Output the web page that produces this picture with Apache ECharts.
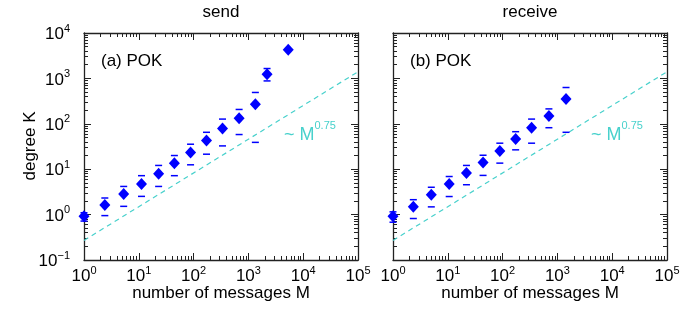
<!DOCTYPE html>
<html>
<head>
<meta charset="utf-8">
<script src="https://cdn.jsdelivr.net/npm/echarts@6/dist/echarts.min.js"></script>
<style>
  html, body { margin: 0; padding: 0; background: #fff; }
  #main { width: 697px; height: 314px; }
</style>
</head>
<body>
<div id="main"></div>
<script>
// (a) send
var sendM  = [1, 2.4, 5.3, 11.2, 23, 44.6, 88, 172, 337, 677, 1340, 2190, 5330];
var sendK  = [0.92, 1.62, 2.85, 4.7, 7.9, 13.6, 23.2, 42.6, 79, 132, 268, 1240, 4300];
var sendLo = [0.72, 0.95, 1.52, 2.52, 4.17, 7.2, 12.5, 21.4, 32.6, 58, 39, 880, null];
var sendHi = [1.1, 2.32, 4.17, 7.2, 12.1, 20, 35.5, 65, 127, 207, 490, 1650, null];

// (b) receive
var recvM  = [1, 2.35, 5.0, 10.6, 21.9, 44, 89, 173, 338, 700, 1437];
var recvK  = [0.92, 1.48, 2.75, 4.7, 8.2, 14, 25.3, 46.4, 82, 148, 350];
var recvLo = [0.68, 0.82, 1.48, 2.5, 4.55, 7.3, 13.6, 26.7, 37.4, 82, 65];
var recvHi = [1.15, 2.13, 4.0, 6.9, 12.1, 20.3, 37.4, 67, 127, 213, 630];

// ~ M^0.75 guide line (end points)
var fitM = [1, 100000];
var fitK = [0.27, 1400];

// tick marks
var xMajor = [1, 10, 100, 1000, 10000, 100000];
var yMajor = [0.1, 1, 10, 100, 1000, 10000];

var FONT = '"Liberation Sans", Arial, Helvetica, sans-serif';
var frameColor = '#222';
var blue = '#0000ff';
var cyan = '#48d1cc';

function minorOf(major) {
  var out = [];
  for (var i = 0; i < major.length - 1; i++) {
    for (var m = 2; m <= 9; m++) out.push(+(major[i] * m).toPrecision(6));
  }
  return out;
}
var xMinor = minorOf(xMajor);
var yMinor = minorOf(yMajor);

function zip(a, b) {
  return a.map(function (v, i) { return [v, b[i]]; });
}
function errRows(m, lo, hi) {
  var rows = [];
  m.forEach(function (v, i) {
    if (lo[i] != null) rows.push([v, lo[i], hi[i]]);
  });
  return rows;
}

function expLabel(v) {
  var e = Math.round(Math.log10(v));
  return '{b|10}{s|' + (e < 0 ? '\u2212' + (-e) : e) + '}';
}
var labelRich = {
  b: { fontSize: 17, fontFamily: FONT, color: '#000', lineHeight: 20, verticalAlign: 'bottom' },
  s: { fontSize: 11, fontFamily: FONT, color: '#000', lineHeight: 11, verticalAlign: 'top' }
};

// one log axis; several of them are stacked on each side for major/minor ticks
function logAxis(g, pos, range, ticks, len, line, labelTicks, margin) {
  return {
    type: 'log',
    logBase: 10,
    gridIndex: g,
    position: pos,
    min: range[0],
    max: range[1],
    axisLine: { show: line, onZero: false, lineStyle: { color: frameColor, width: 1.3 } },
    axisTick: { show: true, inside: true, length: len, customValues: ticks, lineStyle: { color: frameColor, width: 1 } },
    axisLabel: labelTicks ? {
      show: true, customValues: labelTicks, formatter: expLabel, rich: labelRich, margin: margin
    } : { show: false },
    splitLine: { show: false },
    minorTick: { show: false },
    minorSplitLine: { show: false }
  };
}

var xRange = [1, 100000];
var yRange = [0.1, 10000];
var xAxes = [], yAxes = [];
[0, 1].forEach(function (g) {
  xAxes.push(logAxis(g, 'bottom', xRange, xMajor, 7, true, xMajor, 5));
  xAxes.push(logAxis(g, 'bottom', xRange, xMinor, 4, false));
  xAxes.push(logAxis(g, 'top', xRange, xMajor, 7, true));
  xAxes.push(logAxis(g, 'top', xRange, xMinor, 4, false));
  yAxes.push(logAxis(g, 'left', yRange, yMajor, 7, true, g === 0 ? yMajor : null, 14));
  yAxes.push(logAxis(g, 'left', yRange, yMinor, 4, false));
  yAxes.push(logAxis(g, 'right', yRange, yMajor, 7, true));
  yAxes.push(logAxis(g, 'right', yRange, yMinor, 4, false));
});

function renderCaps(params, api) {
  var x = api.value(0);
  var kids = [];
  [api.value(1), api.value(2)].forEach(function (v) {
    if (v == null || isNaN(v)) return;
    var p = api.coord([x, v]);
    kids.push({
      type: 'line',
      shape: { x1: p[0] - 3.5, y1: p[1], x2: p[0] + 3.5, y2: p[1] },
      style: { stroke: blue, lineWidth: 1.5 }
    });
  });
  return { type: 'group', children: kids };
}

function panelSeries(g, m, k, lo, hi) {
  return [
    {
      type: 'line', xAxisIndex: g * 4, yAxisIndex: g * 4,
      data: zip(fitM, fitK), showSymbol: false, silent: true,
      lineStyle: { color: cyan, width: 1.2, type: [5, 4] }, z: 1
    },
    {
      type: 'custom', xAxisIndex: g * 4, yAxisIndex: g * 4,
      data: errRows(m, lo, hi), renderItem: renderCaps,
      encode: { x: 0, y: [1, 2] }, z: 2
    },
    {
      type: 'scatter', xAxisIndex: g * 4, yAxisIndex: g * 4,
      data: zip(m, k), symbol: 'diamond', symbolSize: [11, 12],
      itemStyle: { color: blue, opacity: 1 }, z: 3
    }
  ];
}

function txt(x, y, s, size, extra) {
  var style = { text: s, font: size + 'px ' + FONT, fill: '#000', textAlign: 'center', textVerticalAlign: 'middle' };
  for (var key in extra) style[key] = extra[key];
  return { type: 'text', x: x, y: y, style: style, silent: true };
}
function fitLabel(x) {
  return {
    type: 'text', x: x, y: 120, silent: true,
    style: {
      text: '{m|~ M}{s|0.75}', textAlign: 'left', textVerticalAlign: 'top',
      rich: {
        m: { fontSize: 18, fontFamily: FONT, fill: cyan, lineHeight: 24, verticalAlign: 'bottom' },
        s: { fontSize: 11, fontFamily: FONT, fill: cyan, lineHeight: 11, verticalAlign: 'top' }
      }
    }
  };
}

var chart = echarts.init(document.getElementById('main'));
chart.setOption({
  animation: false,
  backgroundColor: '#fff',
  grid: [
    { left: 84, top: 33, width: 274, height: 227, outerBoundsMode: 'none' },
    { left: 393, top: 33, width: 274, height: 227, outerBoundsMode: 'none' }
  ],
  xAxis: xAxes,
  yAxis: yAxes,
  series: panelSeries(0, sendM, sendK, sendLo, sendHi)
    .concat(panelSeries(1, recvM, recvK, recvLo, recvHi)),
  graphic: [
    txt(221, 12, 'send', 17),
    txt(530, 12, 'receive', 17),
    txt(101, 61, '(a) POK', 17, { textAlign: 'left' }),
    txt(410, 61, '(b) POK', 17, { textAlign: 'left' }),
    txt(221, 293, 'number of messages M', 17),
    txt(530, 293, 'number of messages M', 17),
    {
      type: 'text', x: 30, y: 146, rotation: Math.PI / 2, silent: true,
      style: { text: 'degree K', font: '17px ' + FONT, fill: '#000', textAlign: 'center', textVerticalAlign: 'middle' }
    },
    fitLabel(284),
    fitLabel(591)
  ]
});
</script>
</body>
</html>
